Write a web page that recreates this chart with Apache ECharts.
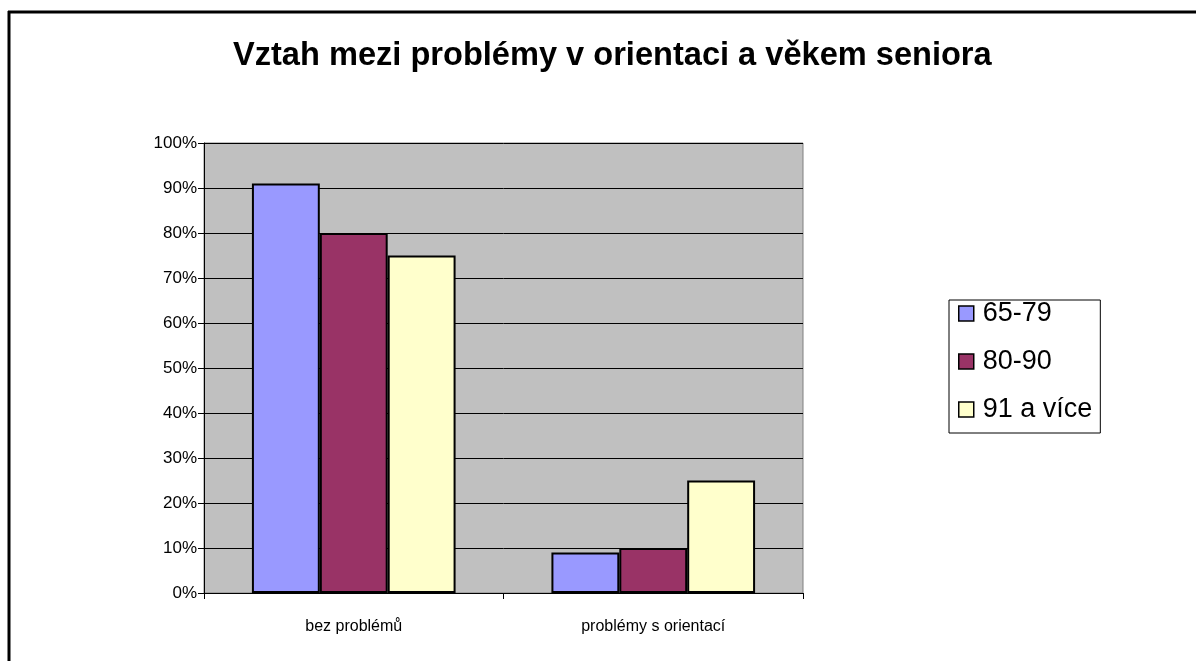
<!DOCTYPE html>
<html>
<head>
<meta charset="utf-8">
<script src="https://cdn.jsdelivr.net/npm/echarts@6/dist/echarts.min.js"></script>
<style>
  html, body { margin: 0; padding: 0; background: #fff; }
  #chart { width: 1196px; height: 661px; }
</style>
</head>
<body>
<div id="chart"></div>
<script>
// data
var categories = ['bez problémů', 'problémy s orientací'];
var seriesNames = ['65-79', '80-90', '91 a více'];
var age6579 = [91, 9];
var age8090 = [80, 10];
var age91plus = [75, 25];
var yTicks = [0, 10, 20, 30, 40, 50, 60, 70, 80, 90, 100];

var colors = ['#9999FF', '#993366', '#FFFFCC'];
var font = '"Liberation Sans", Arial, sans-serif';

function bar(name, data, i) {
  return {
    name: name,
    type: 'bar',
    data: data,
    barGap: 0,
    barCategoryGap: '32%',
    itemStyle: { color: colors[i], borderColor: '#000', borderWidth: 2 }
  };
}

var myChart = echarts.init(document.getElementById('chart'));
myChart.setOption({
  animation: false,
  backgroundColor: '#fff',
  title: {
    text: 'Vztah mezi problémy v orientaci a věkem seniora',
    left: 233,
    top: 40,
    padding: 0,
    textStyle: { fontFamily: font, fontSize: 32.6, fontWeight: 'bold', color: '#000' }
  },
  // frame round the chart (left and top edges only are visible)
  graphic: [
    { type: 'line', shape: { x1: 9, y1: 11, x2: 9, y2: 661 }, style: { stroke: '#000', lineWidth: 3 } },
    { type: 'line', shape: { x1: 8, y1: 12, x2: 1196, y2: 12 }, style: { stroke: '#000', lineWidth: 3 } }
  ],
  legend: {
    orient: 'vertical',
    left: 949,
    top: 300,
    padding: [0, 8, 10, 9],
    itemGap: 21,
    itemWidth: 15,
    itemHeight: 15,
    borderColor: '#000',
    borderWidth: 1,
    icon: 'rect',
    itemStyle: { borderColor: '#000', borderWidth: 1.5 },
    textStyle: { fontFamily: font, fontSize: 27, color: '#000', padding: [0, 0, 0, 4] },
    data: seriesNames
  },
  grid: {
    left: 204,
    right: 393,
    top: 143,
    bottom: 68,
    show: true,
    backgroundColor: '#C0C0C0',
    borderColor: '#808080',
    borderWidth: 1
  },
  xAxis: {
    type: 'category',
    data: categories,
    axisLine: { lineStyle: { color: '#000', width: 1 } },
    axisTick: { show: true, length: 6, lineStyle: { color: '#000' } },
    axisLabel: { margin: 26, fontFamily: font, fontSize: 16, color: '#000' }
  },
  yAxis: {
    type: 'value',
    min: yTicks[0],
    max: yTicks[yTicks.length - 1],
    interval: 10,
    axisLine: { show: true, lineStyle: { color: '#000', width: 1 } },
    axisTick: { show: true, length: 6, lineStyle: { color: '#000' } },
    axisLabel: { margin: 7, fontFamily: font, fontSize: 17, color: '#000', formatter: '{value}%' },
    splitLine: { lineStyle: { color: '#000', width: 1 } }
  },
  series: [
    bar(seriesNames[0], age6579, 0),
    bar(seriesNames[1], age8090, 1),
    bar(seriesNames[2], age91plus, 2)
  ]
});
</script>
</body>
</html>
